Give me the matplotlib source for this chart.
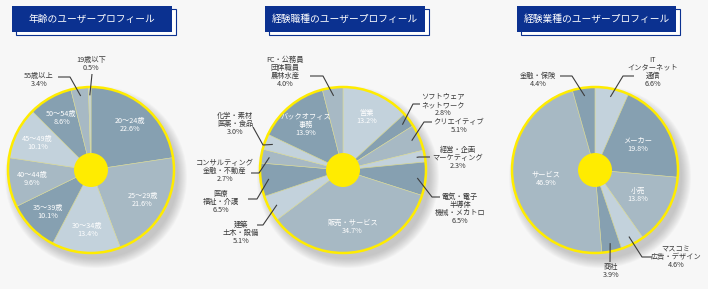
import matplotlib
matplotlib.use("Agg")
import numpy as np
import matplotlib.pyplot as plt
from matplotlib.patches import Circle, Rectangle

plt.rcParams['font.family'] = ['Noto Sans CJK JP', 'DejaVu Sans']

# ---- data ----
titles = ['年齢のユーザープロフィール', '経験職種のユーザープロフィール', '経験業種のユーザープロフィール']

age_labels = ['20〜24歳', '25〜29歳', '30〜34歳', '35〜39歳', '40〜44歳',
              '45〜49歳', '50〜54歳', '55歳以上', '19歳以下']
age_values = [22.6, 21.6, 13.4, 10.1, 9.6, 10.1, 8.6, 3.4, 0.5]

job_labels = ['営業', 'ソフトウェア\nネットワーク', 'クリエイティブ', '経営・企画\nマーケティング',
              '電気・電子\n半導体\n機械・メカトロ', '販売・サービス', '建築\n土木・設備',
              '医療\n福祉・介護', 'コンサルティング\n金融・不動産', '化学・素材\n医薬・食品',
              'バックオフィス\n事務', 'FC・公務員\n団体職員\n農林水産']
job_values = [13.2, 2.8, 5.1, 2.3, 6.5, 34.7, 5.1, 6.5, 2.7, 3.0, 13.9, 4.0]

ind_labels = ['IT\nインターネット\n通信', 'メーカー', '小売', 'マスコミ\n広告・デザイン',
              '商社', 'サービス', '金融・保険']
ind_values = [6.6, 19.8, 13.8, 4.6, 3.9, 46.9, 4.4]

# ---- style ----
W, H = 708, 289
BG = '#f7f7f7'
DARK, MID, LIGHT = '#86a0b1', '#a7b9c4', '#c3d2dc'
YELLOW = '#ffec00'
NAVY = '#0b3190'
TXT = '#3a3a3a'

age_colors = [DARK, MID, LIGHT] * 3
job_colors = [LIGHT, DARK, MID] * 4
ind_colors = [LIGHT, DARK, MID, LIGHT, DARK, MID, DARK]

# pie centres (pixels, y from top), radius, inside label radius factor
R = 83
pies = [
    dict(c=(91, 170), labels=age_labels, values=age_values, colors=age_colors, rin=0.72,
         title_box=(12, 6, 160, 26),
         outside={'19歳以下': dict(elbow=(92, 74), hend=None, text=(91, 64)),
                  '55歳以上': dict(elbow=(70, 77), hend=(58, 77), text=(39, 80))}),
    dict(c=(343, 170), labels=job_labels, values=job_values, colors=job_colors, rin=0.7,
         title_box=(265, 6, 160, 26),
         outside={'FC・公務員\n団体職員\n農林水産': dict(elbow=(323, 76), hend=(310, 76), text=(285, 72)),
                  'ソフトウェア\nネットワーク': dict(elbow=(413, 104), hend=(420, 104), text=(443, 105)),
                  'クリエイティブ': dict(elbow=(424, 122), hend=(432, 122), text=(459, 126)),
                  '経営・企画\nマーケティング': dict(elbow=(419, 157), hend=(430, 157), text=(458, 158)),
                  '電気・電子\n半導体\n機械・メカトロ': dict(elbow=(432, 197), hend=(440, 197), text=(460, 209)),
                  '化学・素材\n医薬・食品': dict(elbow=(263, 145), hend=(253, 127), text=(235, 124)),
                  'コンサルティング\n金融・不動産': dict(elbow=(259, 173), hend=(251, 173), text=(225, 171)),
                  '医療\n福祉・介護': dict(elbow=(257, 199), hend=(248, 199), text=(221, 202)),
                  '建築\n土木・設備': dict(elbow=(263, 225), hend=(257, 225), text=(241, 233))}),
    dict(c=(595, 170), labels=ind_labels, values=ind_values, colors=ind_colors, rin=0.6,
         title_box=(517, 6, 159, 26),
         outside={'IT\nインターネット\n通信': dict(elbow=(623, 76), hend=(634, 76), text=(653, 72)),
                  '金融・保険': dict(elbow=(572, 76), hend=(560, 76), text=(538, 80)),
                  'マスコミ\n広告・デザイン': dict(elbow=(642, 257), hend=(652, 257), text=(676, 257)),
                  '商社': dict(elbow=(610, 262), hend=None, text=(611, 271))}),
]

fig = plt.figure(figsize=(W / 100, H / 100), dpi=100)
fig.patch.set_facecolor(BG)
ax = fig.add_axes([0, 0, 1, 1])
ax.set_xlim(0, W)
ax.set_ylim(0, H)
ax.set_aspect('equal')
ax.axis('off')


def fy(y):
    return H - y


for i, p in enumerate(pies):
    cx, cy = p['c'][0], fy(p['c'][1])

    # soft drop shadow
    for k in range(10):
        ax.add_patch(Circle((cx + 5, cy - 7), R + 8 - k, color='#7a7a7a',
                            alpha=0.045, lw=0, zorder=1))

    wedges, _ = ax.pie(p['values'], colors=p['colors'], startangle=90, counterclock=False,
                       center=(cx, cy), radius=R, frame=True,
                       wedgeprops=dict(edgecolor='#d6d89c', linewidth=0.45, zorder=2))
    ax.add_patch(Circle((cx, cy), R, fill=False, ec=YELLOW, lw=1.8, zorder=4))
    ax.add_patch(Circle((cx, cy), 17, color=YELLOW, lw=0, zorder=5))

    for w, lab, v in zip(wedges, p['labels'], p['values']):
        mid = np.radians((w.theta1 + w.theta2) / 2)
        txt = f'{lab}\n{v:.1f}%'
        if lab in p['outside']:
            o = p['outside'][lab]
            ax0, ay0 = cx + 0.9 * R * np.cos(mid), cy + 0.9 * R * np.sin(mid)
            xs = [ax0, o['elbow'][0]]
            ys = [ay0, fy(o['elbow'][1])]
            if o['hend'] is not None:
                xs.append(o['hend'][0])
                ys.append(fy(o['hend'][1]))
            ax.plot(xs, ys, color='#3c3c3c', lw=0.8, zorder=6, solid_capstyle='butt')
            ax.text(o['text'][0], fy(o['text'][1]), txt, ha='center', va='center',
                    fontsize=5.2, color=TXT, linespacing=1.05, zorder=7)
        else:
            r = p['rin'] * R
            ax.text(cx + r * np.cos(mid), cy + r * np.sin(mid), txt, ha='center', va='center',
                    fontsize=5.2, color='white', linespacing=1.05, zorder=7)

    # title box
    bx, by, bw, bh = p['title_box']
    ax.add_patch(Rectangle((bx + 4, fy(by + bh + 3)), bw, bh, fc='white', ec=NAVY, lw=0.8, zorder=8))
    ax.add_patch(Rectangle((bx, fy(by + bh)), bw, bh, fc=NAVY, ec='none', zorder=9))
    ax.text(bx + bw / 2, fy(by + bh / 2), titles[i], ha='center', va='center',
            fontsize=7, color='white', zorder=10)

ax.set_xlim(0, W)
ax.set_ylim(0, H)
fig.savefig('out.png', dpi=100, facecolor=BG)
